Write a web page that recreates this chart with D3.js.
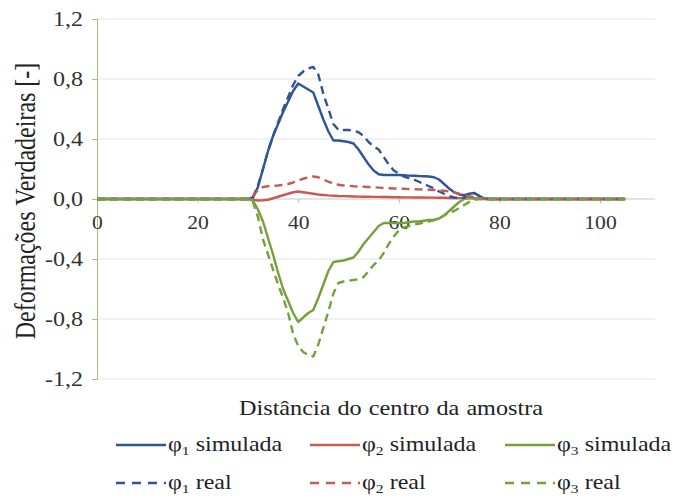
<!DOCTYPE html>
<html><head><meta charset="utf-8">
<script src="https://cdn.jsdelivr.net/npm/d3@7"></script>
<style>body{margin:0;background:#fff}svg{display:block}svg text{font-family:"Liberation Serif","Times New Roman",Tinos,"DejaVu Serif",serif !important}</style>
</head><body>
<svg id="c" width="685" height="500"></svg>
<script>
const xTicks = [0, 20, 40, 60, 80, 100];
const yTicks = [-1.2, -0.8, -0.4, 0, 0.4, 0.8, 1.2];
const dist = [0,10,20,30,31,32,33,34,35,36,37,38,39,40,41,42,43,44,45,46,47,48,49,50,51,52,53,54,55,56,57,58,59,60,61,62,63,64,65,66,67,68,69,70,71,72,73,74,75,76,77,78,80,90,100,105];
const phi1Sim = [0,0,0,0,0.01,0.08,0.2,0.32,0.42,0.5,0.58,0.65,0.72,0.77,0.75,0.73,0.71,0.62,0.53,0.45,0.39,0.39,0.385,0.38,0.37,0.33,0.28,0.23,0.19,0.165,0.16,0.16,0.16,0.16,0.158,0.156,0.155,0.153,0.152,0.15,0.145,0.13,0.1,0.07,0.045,0.03,0.025,0.035,0.04,0.02,0.005,0,0,0,0,0];
const phi1Real = [0,0,0,0,0.01,0.09,0.2,0.32,0.42,0.51,0.6,0.68,0.76,0.82,0.85,0.87,0.88,0.83,0.7,0.6,0.5,0.46,0.46,0.46,0.455,0.445,0.42,0.38,0.35,0.33,0.28,0.23,0.19,0.17,0.15,0.14,0.13,0.115,0.1,0.085,0.07,0.05,0.035,0.02,0.01,0.005,0.01,0.03,0.04,0.02,0,0,0,0,0,0];
const phi2Sim = [0,0,0,0,-0.005,-0.01,-0.008,-0.005,0.005,0.015,0.025,0.035,0.045,0.05,0.045,0.04,0.035,0.03,0.027,0.024,0.022,0.02,0.019,0.018,0.017,0.016,0.015,0.015,0.014,0.014,0.013,0.013,0.012,0.012,0.011,0.011,0.01,0.01,0.01,0.009,0.009,0.008,0.008,0.007,0.007,0.006,0.006,0.005,0.005,0.004,0.002,0,0,0,0,0];
const phi2Real = [0,0,0,0,0.02,0.06,0.08,0.085,0.088,0.09,0.095,0.1,0.11,0.125,0.135,0.145,0.15,0.145,0.13,0.115,0.105,0.095,0.09,0.088,0.085,0.083,0.082,0.08,0.078,0.076,0.074,0.072,0.07,0.07,0.068,0.066,0.065,0.064,0.063,0.062,0.06,0.058,0.055,0.05,0.045,0.035,0.025,0.018,0.012,0.006,0.002,0,0,0,0,0];
const phi3Sim = [0,0,0,0,-0.01,-0.07,-0.15,-0.26,-0.37,-0.49,-0.6,-0.68,-0.76,-0.82,-0.79,-0.76,-0.74,-0.66,-0.57,-0.48,-0.42,-0.415,-0.41,-0.4,-0.39,-0.35,-0.3,-0.26,-0.22,-0.18,-0.16,-0.16,-0.16,-0.16,-0.16,-0.155,-0.15,-0.15,-0.145,-0.14,-0.14,-0.13,-0.11,-0.08,-0.05,-0.02,0,0.01,0.005,0,0,0,0,0,0,0];
const phi3Real = [0,0,0,0,-0.02,-0.12,-0.27,-0.37,-0.47,-0.57,-0.66,-0.76,-0.9,-0.98,-1.02,-1.04,-1.05,-0.97,-0.86,-0.75,-0.63,-0.56,-0.55,-0.545,-0.54,-0.535,-0.52,-0.48,-0.44,-0.41,-0.36,-0.3,-0.25,-0.21,-0.19,-0.18,-0.17,-0.165,-0.155,-0.15,-0.14,-0.13,-0.11,-0.09,-0.08,-0.06,-0.04,-0.02,-0.005,0,0,0,0,0,0,0];
const seriesNames = ["φ1 simulada","φ2 simulada","φ3 simulada","φ1 real","φ2 real","φ3 real"];

const colors = {blue:"#2f5597", red:"#c55a57", green:"#76a03c"};
const series = [
  {name:seriesNames[0], vals:phi1Sim, color:colors.blue, dash:null},
  {name:seriesNames[1], vals:phi2Sim, color:colors.red, dash:null},
  {name:seriesNames[2], vals:phi3Sim, color:colors.green, dash:null},
  {name:seriesNames[3], vals:phi1Real, color:colors.blue, dash:"8,5"},
  {name:seriesNames[4], vals:phi2Real, color:colors.red, dash:"8,5"},
  {name:seriesNames[5], vals:phi3Real, color:colors.green, dash:"8,5"}
];

const svg = d3.select("#c");
const x = d3.scaleLinear().domain([0,100]).range([97,600]);
const y = d3.scaleLinear().domain([-1.2,1.2]).range([379,19]);
const xRight = 655;
const SX = 1.2; // horizontal stretch of the text, as in the reference
const fmt = v => (v<0?"-":"") + Math.abs(v).toFixed(1).replace(".",",");

// gridlines
svg.append("g").selectAll("line").data(yTicks.filter(v=>v!==0)).join("line")
  .attr("x1",x(0)).attr("x2",xRight).attr("y1",d=>y(d)).attr("y2",d=>y(d))
  .attr("stroke","#e4e4e4").attr("stroke-width",1);

// y axis
const yAxis = svg.append("g").attr("transform",`translate(${x(0)},0)`)
  .call(d3.axisLeft(y).tickValues(yTicks).tickFormat(fmt).tickSize(5));
yAxis.attr("font-family",null);
yAxis.select(".domain").attr("stroke","#a9b98a");
yAxis.selectAll(".tick line").attr("stroke","#a9b98a");
yAxis.selectAll("text").attr("font-size",20).attr("fill","#333")
  .attr("x",0).attr("transform",`translate(-14,0) scale(${SX},1)`);

// x axis at zero
const xAxis = svg.append("g").attr("transform",`translate(0,${y(0)})`)
  .call(d3.axisBottom(x).tickValues(xTicks).tickSize(4).tickSizeOuter(0));
xAxis.attr("font-family",null);
xAxis.select(".domain").attr("d",`M${x(0)},0H${xRight}`).attr("stroke","#c8c8c8");
xAxis.selectAll(".tick line").attr("stroke","#bbb");
xAxis.selectAll("text").attr("font-size",18).attr("fill","#333")
  .attr("y",0).attr("dy",0).attr("transform",`translate(0,30) scale(${SX},1)`);

// lines
const line = d3.line().x((d,i)=>x(dist[i])).y(d=>y(d));
svg.append("g").selectAll("path").data(series).join("path")
  .attr("d",d=>line(d.vals)).attr("fill","none")
  .attr("stroke",d=>d.color).attr("stroke-width",2.4)
  .attr("stroke-dasharray",d=>d.dash).attr("stroke-linejoin","round");

// axis titles
svg.append("text").attr("transform",`translate(391,415) scale(1.1,1)`).attr("text-anchor","middle")
  .attr("font-size",22).attr("fill","#222").attr("word-spacing",1).text("Distância do centro da amostra");
svg.append("text").attr("transform",`translate(35,201) scale(${SX},1) rotate(-90)`).attr("text-anchor","middle")
  .attr("font-size",24).attr("fill","#222").text("Deformações Verdadeiras [-]");

// legend
const legX = [116, 310, 505], legY = [445, 483];
const leg = svg.append("g").selectAll("g").data(series).join("g")
  .attr("transform",(d,i)=>`translate(${legX[i%3]},${legY[Math.floor(i/3)]})`);
leg.append("line").attr("x1",0).attr("x2",50).attr("y1",0).attr("y2",0)
  .attr("stroke",d=>d.color).attr("stroke-width",2.4).attr("stroke-dasharray",d=>d.dash?"9,7":null);
leg.each(function(d){
  const t = d3.select(this).append("text").attr("transform",`translate(52,6) scale(${SX},1)`)
    .attr("font-size",20).attr("fill","#222");
  const parts = d.name.split(" ");
  t.append("tspan").text("φ");
  t.append("tspan").attr("font-size",13).attr("dy",4).text(parts[0].slice(1));
  t.append("tspan").attr("dy",-4).text(" " + parts.slice(1).join(" "));
});
</script>
</body></html>
